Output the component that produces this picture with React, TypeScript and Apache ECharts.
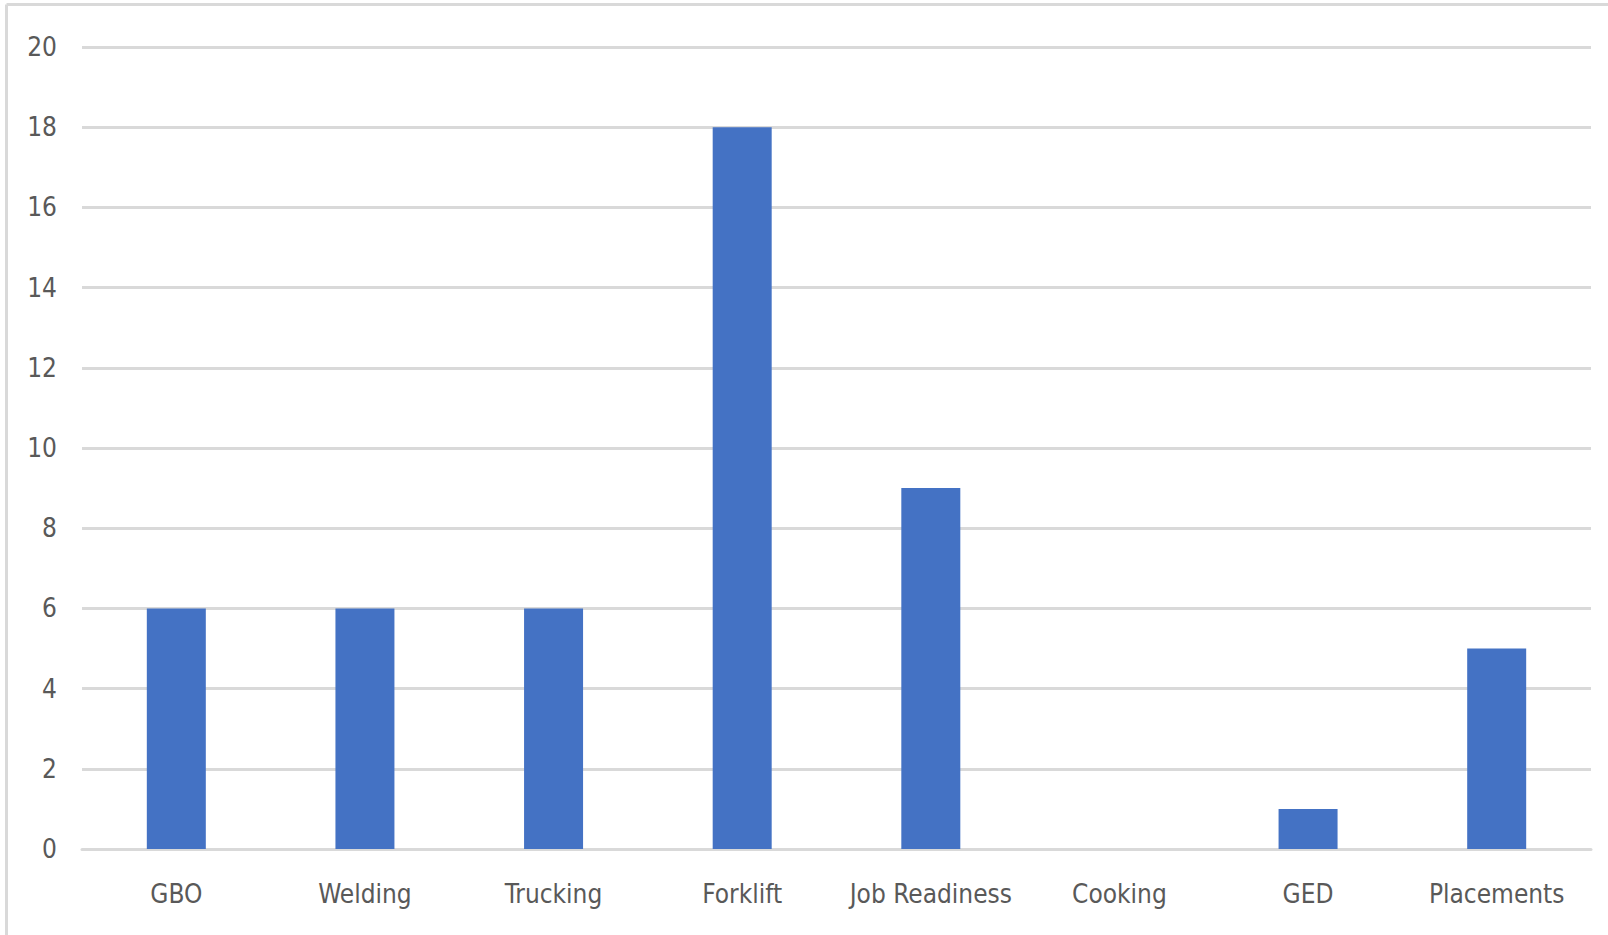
import React, { useEffect, useRef } from "react";
import * as echarts from "echarts";

const categories = ["GBO", "Welding", "Trucking", "Forklift", "Job Readiness", "Cooking", "GED", "Placements"];
const values = [6, 6, 6, 18, 9, 0, 1, 5];
const yTicks = { min: 0, max: 20, interval: 2 };

const FONT = "'DejaVu Sans Condensed', 'Liberation Sans Narrow', sans-serif";

export default function App() {
  const ref = useRef<HTMLDivElement>(null);
  useEffect(() => {
    if (!ref.current) return;
    const chart = echarts.init(ref.current, undefined, { renderer: "svg" });
    chart.setOption({
      animation: false,
      backgroundColor: "#ffffff",
      grid: { left: 82, right: 17, top: 47, bottom: 86, containLabel: false },
      graphic: [
        { type: "line", shape: { x1: 6.5, y1: 4.5, x2: 1608, y2: 4.5 }, style: { stroke: "#d9d9d9", lineWidth: 3 } },
        { type: "line", shape: { x1: 6.5, y1: 4.5, x2: 6.5, y2: 935 }, style: { stroke: "#d9d9d9", lineWidth: 3 } },
      ],
      xAxis: {
        type: "category",
        data: categories,
        axisLine: { show: true, lineStyle: { color: "#d9d9d9", width: 3 } },
        axisTick: { show: false },
        axisLabel: { color: "#595959", fontFamily: FONT, fontSize: 26, margin: 32, interval: 0 },
      },
      yAxis: {
        type: "value",
        min: yTicks.min,
        max: yTicks.max,
        interval: yTicks.interval,
        axisLine: { show: false },
        axisTick: { show: false },
        splitLine: { lineStyle: { color: "#d9d9d9", width: 3 } },
        axisLabel: { color: "#595959", fontFamily: FONT, fontSize: 26, margin: 25 },
      },
      series: [
        {
          type: "bar",
          data: values,
          barWidth: 59,
          itemStyle: { color: "#4472C4" },
        },
      ],
    });
    return () => chart.dispose();
  }, []);
  return (
    <div
      ref={ref}
      style={{ position: "absolute", left: 0, top: 0, width: 1608, height: 935 }}
    />
  );
}
